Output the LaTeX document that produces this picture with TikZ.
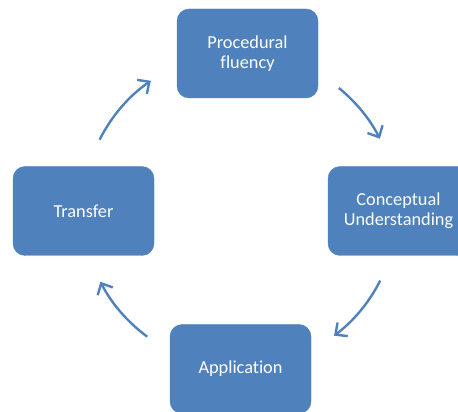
\documentclass[tikz,border=0pt]{standalone}
\usepackage{fontspec}
\setmainfont[Ligatures=NoCommon]{Carlito}
\usetikzlibrary{arrows.meta,calc}
\definecolor{boxblue}{HTML}{4F81BD}
\tikzset{
  box/.style={fill=boxblue, draw=boxblue, rounded corners=12pt, minimum width=141pt, minimum height=89pt,
    text=white, align=center, font=\fontsize{18.3}{20}\selectfont, inner sep=0pt},
  arr/.style={draw=boxblue, line width=2.4pt, -{Straight Barb[length=9pt,width=17pt,line width=2.4pt]}}
}
\begin{document}
\begin{tikzpicture}[x=1pt,y=1pt]
\useasboundingbox (0,0) rectangle (458,412);
\node[box] (proc) at (247.5,358.5) {Procedural\\fluency};
\node[box] (trans) at (83.5,201) {Transfer};
\node[box] (conc) at (398.5,201) {Conceptual\\Understanding};
\node[box] (appl) at (240.5,43) {Application};
\coordinate (c) at (240,202);
\coordinate (a1) at ($(c)+(153.4:157)$);
\draw[arr] (a1) arc[start angle=153.4, end angle=124.6, radius=157];
\coordinate (a2) at ($(c)+(51:157)$);
\draw[arr] (a2) arc[start angle=51, end angle=27, radius=157];
\coordinate (a3) at ($(c)+(-26.7:157)$);
\draw[arr] (a3) arc[start angle=-26.7, end angle=-53.2, radius=157];
\coordinate (a4) at ($(c)+(-126.2:157)$);
\draw[arr] (a4) arc[start angle=-126.2, end angle=-152.8, radius=157];
\end{tikzpicture}
\end{document}
